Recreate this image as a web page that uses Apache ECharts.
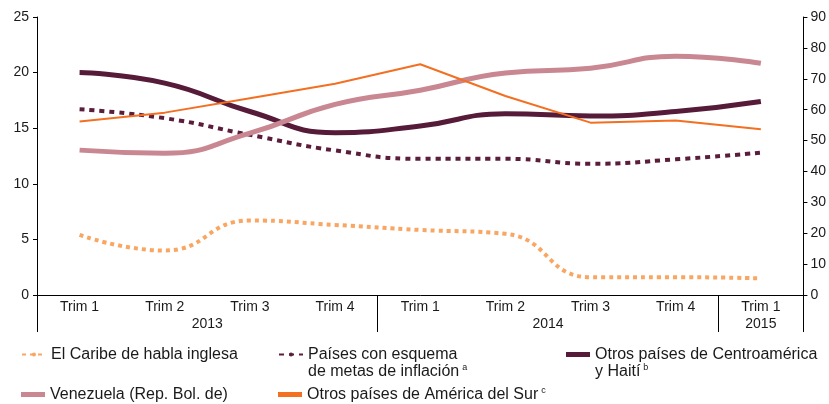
<!DOCTYPE html>
<html>
<head>
<meta charset="utf-8">
<script src="https://cdn.jsdelivr.net/npm/echarts@6/dist/echarts.min.js"></script>
<style>
  html, body { margin: 0; padding: 0; background: #fff; }
  #chart { width: 829px; height: 404px; }
</style>
</head>
<body>
<div id="chart"></div>
<script>
// categorias y años
var trimestres = ['Trim 1', 'Trim 2', 'Trim 3', 'Trim 4', 'Trim 1', 'Trim 2', 'Trim 3', 'Trim 4', 'Trim 1'];
var anios = ['', '', '', '', '2013', '', '', '', '', '', '', '', '2014', '', '', '', '', '2015', ''];
var divisiones = [0, 8, 16, 18];

// series (eje izquierdo salvo Venezuela)
var caribe = [5.4, 4.0, 6.7, 6.3, 5.85, 5.5, 1.6, 1.6, 1.5];
var metas = [16.7, 15.9, 14.4, 13.0, 12.25, 12.25, 11.8, 12.2, 12.8];
var centro = [20.0, 19.05, 16.5, 14.6, 15.2, 16.3, 16.1, 16.5, 17.4];
var venezuela = [46.9, 45.9, 52.4, 61.7, 66.3, 71.9, 73.4, 77.3, 75.0];   // eje derecho
var sur = [15.6, 16.4, 17.7, 19.0, 20.75, 17.9, 15.5, 15.7, 14.9];

var nombres = [
    'El Caribe de habla inglesa',
    'Países con esquema de metas de inflación',
    'Otros países de Centroamérica y Haití',
    'Venezuela (Rep. Bol. de)',
    'Otros países de América del Sur'
];

var txt = '#1a1a1a';
var fuente = 'Liberation Sans, Arial, sans-serif';

function leyenda(nombre, left, top, icono, fmt) {
    var l = {
        data: [nombre],
        left: left,
        top: top,
        padding: 0,
        itemWidth: 24,
        itemHeight: 5,
        itemGap: 0,
        selectedMode: false,
        textStyle: {
            color: txt, fontSize: 16, fontFamily: fuente, lineHeight: 17,
            rich: { sup: { fontSize: 9, verticalAlign: 'top', lineHeight: 17, padding: [0, 0, 0, 3], color: txt } }
        }
    };
    if (icono) l.icon = icono;
    if (fmt) l.formatter = function () { return fmt; };
    return l;
}

var chart = echarts.init(document.getElementById('chart'));
var option = {
    animation: false,
    textStyle: { fontFamily: fuente },
    grid: { left: 37, right: 24, top: 17, bottom: 109 },
    legend: [
        leyenda(nombres[0], 21, 346),
        leyenda(nombres[1], 278, 329, null, ' \nPaíses con esquema\nde metas de inflación{sup|a}'),
        leyenda(nombres[2], 566, 329, 'rect', ' \nOtros países de Centroamérica\ny Haití{sup|b}'),
        leyenda(nombres[3], 21, 386, 'rect'),
        leyenda(nombres[4], 278, 386, 'rect', 'Otros países de América del Sur{sup|c}')
    ],
    xAxis: [{
        type: 'category',
        position: 'bottom',
        data: trimestres,
        boundaryGap: true,
        axisLine: { lineStyle: { color: '#000', width: 1 } },
        axisTick: { length: 9, interval: 0, lineStyle: { color: '#000' } },
        axisLabel: { color: txt, fontSize: 14, margin: 5, interval: 0 }
    }, {
        type: 'category',
        position: 'bottom',
        data: anios,
        boundaryGap: false,
        axisLine: { show: false },
        axisTick: {
            length: 37,
            interval: function (i) { return divisiones.indexOf(i) >= 0; },
            lineStyle: { color: '#000' }
        },
        axisLabel: { color: txt, fontSize: 14, margin: 22, interval: 0 }
    }],
    yAxis: [{
        type: 'value',
        min: 0, max: 25, interval: 5,
        position: 'left',
        splitLine: { show: false },
        axisLine: { show: true, lineStyle: { color: '#000' } },
        axisTick: { show: true, length: 4, lineStyle: { color: '#000' } },
        axisLabel: { color: txt, fontSize: 14, margin: 8 }
    }, {
        type: 'value',
        min: 0, max: 90, interval: 10,
        position: 'right',
        splitLine: { show: false },
        axisLine: { show: true, lineStyle: { color: '#000' } },
        axisTick: { show: true, length: 4, lineStyle: { color: '#000' } },
        axisLabel: { color: txt, fontSize: 14, margin: 7 }
    }],
    series: [{
        name: nombres[0], type: 'line', data: caribe, smooth: true, symbol: 'none',
        itemStyle: { color: '#f9a662' },
        lineStyle: { color: '#f9a662', width: 4, type: [4, 4], cap: 'butt' }
    }, {
        name: nombres[1], type: 'line', data: metas, smooth: true, symbol: 'none',
        itemStyle: { color: '#5a1d3b' },
        lineStyle: { color: '#5a1d3b', width: 4, type: [5, 5], cap: 'butt' }
    }, {
        name: nombres[2], type: 'line', data: centro, smooth: true, symbol: 'none',
        itemStyle: { color: '#561b38' },
        lineStyle: { color: '#561b38', width: 5 }
    }, {
        name: nombres[3], type: 'line', data: venezuela, yAxisIndex: 1, smooth: true, symbol: 'none',
        itemStyle: { color: '#c98792' },
        lineStyle: { color: '#c98792', width: 5 }
    }, {
        name: nombres[4], type: 'line', data: sur, smooth: false, symbol: 'none',
        itemStyle: { color: '#f36f21' },
        lineStyle: { color: '#f36f21', width: 2 }
    }]
};
chart.setOption(option);
</script>
</body>
</html>
